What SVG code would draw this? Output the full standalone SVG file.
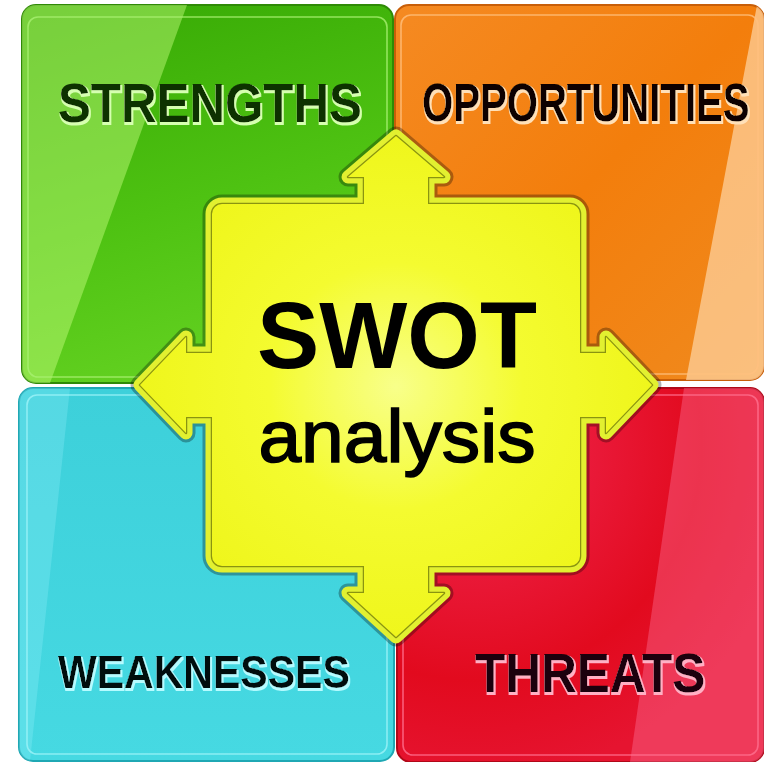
<svg xmlns="http://www.w3.org/2000/svg" width="764" height="762" viewBox="0 0 764 762">
<defs>
<linearGradient id="gGreen" x1="0" y1="0" x2="0.3" y2="1">
<stop offset="0" stop-color="#36a804"/><stop offset="0.6" stop-color="#4ec212"/><stop offset="1" stop-color="#62d020"/>
</linearGradient>
<linearGradient id="gOrange" x1="0" y1="0" x2="1" y2="1">
<stop offset="0" stop-color="#f58a22"/><stop offset="0.5" stop-color="#f37e0c"/><stop offset="1" stop-color="#f08a1e"/>
</linearGradient>
<linearGradient id="gCyan" x1="0" y1="0" x2="0" y2="1">
<stop offset="0" stop-color="#3dd0da"/><stop offset="1" stop-color="#46d9e2"/>
</linearGradient>
<radialGradient id="gRed" cx="0.2" cy="0.15" r="0.9">
<stop offset="0" stop-color="#f4427a"/><stop offset="0.35" stop-color="#ea1a3a"/><stop offset="0.7" stop-color="#e20a1e"/><stop offset="1" stop-color="#e61430"/>
</radialGradient>
<radialGradient id="gYellow" cx="0.5" cy="0.5" r="0.55">
<stop offset="0" stop-color="#f8ff8a"/><stop offset="0.45" stop-color="#f4fb30"/><stop offset="1" stop-color="#eef518"/>
</radialGradient>
<clipPath id="cG"><rect x="22" y="5" width="371" height="378" rx="14"/></clipPath>
<clipPath id="cO"><rect x="395" y="5" width="369" height="375" rx="14"/></clipPath>
<clipPath id="cC"><rect x="19" y="388" width="375" height="373" rx="14"/></clipPath>
<clipPath id="cR"><rect x="397" y="388" width="367" height="374" rx="14"/></clipPath>
<filter id="hG" x="-10%" y="-30%" width="120%" height="160%">
<feMorphology in="SourceAlpha" operator="dilate" radius="1.3" result="d"/>
<feOffset in="d" dx="1.2" dy="1.6" result="o"/>
<feFlood flood-color="#d6ffb0"/><feComposite in2="o" operator="in" result="h"/>
<feMerge><feMergeNode in="h"/><feMergeNode in="SourceGraphic"/></feMerge>
</filter>
<filter id="hO" x="-10%" y="-30%" width="120%" height="160%">
<feMorphology in="SourceAlpha" operator="dilate" radius="1.3" result="d"/>
<feOffset in="d" dx="1.2" dy="1.6" result="o"/>
<feFlood flood-color="#ffe0b8"/><feComposite in2="o" operator="in" result="h"/>
<feMerge><feMergeNode in="h"/><feMergeNode in="SourceGraphic"/></feMerge>
</filter>
<filter id="hC" x="-10%" y="-30%" width="120%" height="160%">
<feMorphology in="SourceAlpha" operator="dilate" radius="1.3" result="d"/>
<feOffset in="d" dx="1.2" dy="1.6" result="o"/>
<feFlood flood-color="#b6fbff"/><feComposite in2="o" operator="in" result="h"/>
<feMerge><feMergeNode in="h"/><feMergeNode in="SourceGraphic"/></feMerge>
</filter>
<filter id="hR" x="-10%" y="-30%" width="120%" height="160%">
<feMorphology in="SourceAlpha" operator="dilate" radius="1.3" result="d"/>
<feOffset in="d" dx="1.2" dy="1.6" result="o"/>
<feFlood flood-color="#ffb0c4"/><feComposite in2="o" operator="in" result="h"/>
<feMerge><feMergeNode in="h"/><feMergeNode in="SourceGraphic"/></feMerge>
</filter>
<path id="arrow" d="M396,136 L444,177 L428,177 L428,204 L570,204 A10,10 0 0 1 580,214 L580,353 L606,353 L606,337 L652,385 L606,433 L606,417 L580,417 L580,556 A10,10 0 0 1 570,566 L428,566 L428,593 L444,593 L396,637 L348,593 L364,593 L364,566 L222,566 A10,10 0 0 1 212,556 L212,417 L186,417 L186,433 L140,385 L186,337 L186,353 L212,353 L212,214 A10,10 0 0 1 222,204 L364,204 L364,177 L348,177 Z"/>
</defs>
<style>
.lbl{font-family:"Liberation Sans",Arial,sans-serif;font-weight:bold;}
.inner{fill:none;stroke-width:1.6;}
</style>
<rect width="764" height="762" fill="#ffffff"/>

<g id="strengths">
<rect x="22" y="5" width="371" height="378" rx="14" fill="url(#gGreen)" stroke="#2f8a06" stroke-width="2"/>
<polygon clip-path="url(#cG)" points="22,5 187,5 50,383 22,383" fill="#c8ff80" opacity="0.45"/>
<rect class="inner" x="28" y="17" width="359" height="360" rx="10" stroke="#a8f070" opacity="0.8"/>
<text class="lbl" transform="translate(58,122) scale(0.88,1)" font-size="56" fill="#0c3006" filter="url(#hG)">STRENGTHS</text>
</g>

<g id="opportunities">
<rect x="395" y="5" width="369" height="375" rx="14" fill="url(#gOrange)" stroke="#c85e08" stroke-width="2"/>
<polygon clip-path="url(#cO)" points="757,5 770,5 770,380 686,380" fill="#ffdcb0" opacity="0.65"/>
<rect class="inner" x="401" y="15" width="357" height="359" rx="10" stroke="#ffc080" opacity="0.8"/>
<text class="lbl" transform="translate(422,121) scale(0.743,1)" font-size="54" fill="#0c0600" filter="url(#hO)">OPPORTUNITIES</text>
</g>

<g id="weaknesses">
<rect x="19" y="388" width="375" height="373" rx="14" fill="url(#gCyan)" stroke="#1fa8b4" stroke-width="2"/>
<polygon clip-path="url(#cC)" points="19,388 70,388 30,761 19,761" fill="#a0f4ff" opacity="0.25"/>
<rect class="inner" x="27" y="395" width="360" height="359" rx="10" stroke="#9ef2f8" opacity="0.8"/>
<text class="lbl" transform="translate(58,688) scale(0.892,1)" font-size="46" fill="#050a0c" filter="url(#hC)">WEAKNESSES</text>
</g>

<g id="threats">
<rect x="397" y="388" width="367" height="374" rx="14" fill="url(#gRed)" stroke="#b00818" stroke-width="2"/>
<polygon clip-path="url(#cR)" points="684,388 770,388 770,762 630,762" fill="#ff80aa" opacity="0.35"/>
<rect class="inner" x="403" y="395" width="355" height="360" rx="10" stroke="#ff7090" opacity="0.8"/>
<text class="lbl" transform="translate(475,692) scale(0.885,1)" font-size="56" fill="#1a0008" filter="url(#hR)">THREATS</text>
</g>

<g id="connectors"></g>

<g id="swot-center">
<use href="#arrow" fill="none" stroke="#000000" stroke-opacity="0.3" stroke-width="19" stroke-linejoin="round"/>
<use href="#arrow" fill="none" stroke="#e2f030" stroke-width="13" stroke-linejoin="round"/>
<use href="#arrow" fill="none" stroke="#8a9410" stroke-width="2.5" stroke-linejoin="round"/>
<use href="#arrow" fill="url(#gYellow)" stroke="none"/>
<text class="lbl" transform="translate(397,368) scale(0.982,1)" font-size="95" text-anchor="middle" fill="#000000">SWOT</text>
<text transform="translate(397,462) scale(1.037,1)" font-family="Liberation Sans, Arial, sans-serif" font-size="74" text-anchor="middle" fill="#000000" stroke="#000000" stroke-width="1.6">analysis</text>
</g>
</svg>
